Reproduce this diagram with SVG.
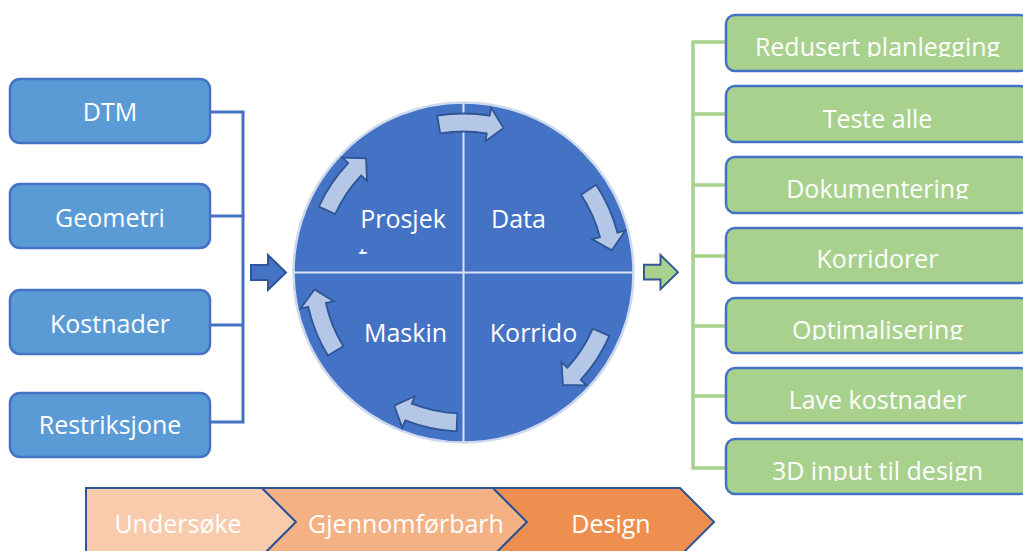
<svg xmlns="http://www.w3.org/2000/svg" xmlns:xlink="http://www.w3.org/1999/xlink" width="1023" height="551" viewBox="0 0 1023 551">
  <style>
    .txt { font-family: "Open Sans", "Liberation Sans", sans-serif; font-size: 25px; fill: #FFFFFF; text-anchor: middle; }
    .inbox { fill: #5B9BD5; stroke: #4472C4; stroke-width: 2.5; }
    .outbox { fill: #A9D18E; stroke: #4472C4; stroke-width: 2.5; }
    .bracket-in { fill: none; stroke: #4472C4; stroke-width: 3; }
    .bracket-out { fill: none; stroke: #A9D18E; stroke-width: 3.5; }
    .cycle { fill: #B4C7E7; stroke: #2F5597; stroke-width: 1.8; stroke-linejoin: miter; }
    .divider { stroke: #DAE3F3; stroke-width: 2; }
    .chev { stroke: #2F5597; stroke-width: 2; }
  </style>
  <defs>
    <!-- clockwise arc arrow drawn around the circle centre, centred on angle 0 -->
    <path id="arcArrow" class="cycle" d="M155.23,-34.42 A159,159 0 0 1 157.98,18.00 L165.93,18.89 L146.45,32.47 L132.15,15.06 L140.09,15.96 A141,141 0 0 0 137.66,-30.52 Z"/>
    <!-- block arrow pointing right -->
    <path id="blockArrow" d="M0,10 H17 V0 L35,17.5 L17,35 V25 H0 Z" stroke="#2F5597" stroke-width="2"/>
    <clipPath id="outClip"><rect x="-5" y="-5" width="320" height="47"/></clipPath>
    <clipPath id="tClip"><rect x="340" y="240" width="60" height="14"/></clipPath>
  </defs>

  <!-- connectors -->
  <g id="connectors">
    <path class="bracket-in" d="M210,112 H243 M210,216 H243 M210,325 H243 M210,422 H243 M243,110.5 V423.5"/>
    <path class="bracket-out" d="M726,42 H693 M726,114 H693 M726,185 H693 M726,256 H693 M726,326 H693 M726,396 H693 M726,468 H693 M693,40.5 V469.5"/>
    <use xlink:href="#blockArrow" transform="translate(251,255)" fill="#4472C4"/>
    <use xlink:href="#blockArrow" transform="translate(644,255) scale(0.97,0.98)" fill="#A9D18E"/>
  </g>

  <!-- inputs -->
  <g id="in-dtm">
    <rect class="inbox" x="10" y="79" width="200" height="64" rx="10"/>
    <text class="txt" x="110" y="121">DTM</text>
  </g>
  <g id="in-geometri">
    <rect class="inbox" x="10" y="184" width="200" height="64" rx="10"/>
    <text class="txt" x="110" y="227">Geometri</text>
  </g>
  <g id="in-kostnader">
    <rect class="inbox" x="10" y="290" width="200" height="64" rx="10"/>
    <text class="txt" x="110" y="333">Kostnader</text>
  </g>
  <g id="in-restriksjoner">
    <rect class="inbox" x="10" y="393" width="200" height="64" rx="10"/>
    <text class="txt" x="110" y="434">Restriksjone</text>
  </g>

  <!-- process cycle -->
  <g id="cycle">
    <circle cx="463.5" cy="272.5" r="170" fill="#4472C4" stroke="#CFD9EE" stroke-width="2.5"/>
    <line class="divider" x1="294" y1="272.5" x2="633" y2="272.5"/>
    <line class="divider" x1="463.5" y1="103" x2="463.5" y2="442"/>
    <use xlink:href="#arcArrow" transform="translate(463.5,272.5) rotate(-87)"/>
    <use xlink:href="#arcArrow" transform="translate(463.5,272.5) rotate(-21)"/>
    <use xlink:href="#arcArrow" transform="translate(463.5,272.5) rotate(36)"/>
    <use xlink:href="#arcArrow" transform="translate(463.5,272.5) rotate(105)"/>
    <use xlink:href="#arcArrow" transform="translate(463.5,272.5) rotate(161)"/>
    <use xlink:href="#arcArrow" transform="translate(463.5,272.5) rotate(217)"/>
  </g>
  <g id="q-prosjekt">
    <text class="txt" x="403" y="228">Prosjek</text>
    <text class="txt" x="363" y="266" clip-path="url(#tClip)">t</text>
  </g>
  <g id="q-data">
    <text class="txt" x="518.5" y="228">Data</text>
  </g>
  <g id="q-maskin">
    <text class="txt" x="405.5" y="342">Maskin</text>
  </g>
  <g id="q-korridor">
    <text class="txt" x="533.5" y="342">Korrido</text>
  </g>

  <!-- outcomes -->
  <g id="out-1" transform="translate(726,15)">
    <rect class="outbox" x="0" y="0" width="303" height="56" rx="9"/>
    <text class="txt" x="151.5" y="41" clip-path="url(#outClip)">Redusert planlegging</text>
  </g>
  <g id="out-2" transform="translate(726,86)">
    <rect class="outbox" x="0" y="0" width="303" height="56" rx="9"/>
    <text class="txt" x="151.5" y="42" clip-path="url(#outClip)">Teste alle</text>
  </g>
  <g id="out-3" transform="translate(726,157)">
    <rect class="outbox" x="0" y="0" width="303" height="56" rx="9"/>
    <text class="txt" x="151.5" y="41" clip-path="url(#outClip)">Dokumentering</text>
  </g>
  <g id="out-4" transform="translate(726,228)">
    <rect class="outbox" x="0" y="0" width="303" height="55" rx="9"/>
    <text class="txt" x="151.5" y="40" clip-path="url(#outClip)">Korridorer</text>
  </g>
  <g id="out-5" transform="translate(726,298)">
    <rect class="outbox" x="0" y="0" width="303" height="55" rx="9"/>
    <text class="txt" x="151.5" y="41" clip-path="url(#outClip)">Optimalisering</text>
  </g>
  <g id="out-6" transform="translate(726,368)">
    <rect class="outbox" x="0" y="0" width="303" height="55" rx="9"/>
    <text class="txt" x="151.5" y="41" clip-path="url(#outClip)">Lave kostnader</text>
  </g>
  <g id="out-7" transform="translate(726,439)">
    <rect class="outbox" x="0" y="0" width="303" height="55" rx="9"/>
    <text class="txt" x="151.5" y="41" clip-path="url(#outClip)">3D input til design</text>
  </g>

  <!-- phases -->
  <g id="phase-undersoke">
    <path class="chev" fill="#F8CBAD" d="M86,488 H262 L296,522 L262,556 H86 Z"/>
    <text class="txt" x="178" y="533">Undersøke</text>
  </g>
  <g id="phase-gjennomforbarhet">
    <path class="chev" fill="#F4B183" d="M262,488 H493 L527,522 L493,556 H262 L296,522 Z"/>
    <text class="txt" x="406" y="533">Gjennomførbarh</text>
  </g>
  <g id="phase-design">
    <path class="chev" fill="#EE8F4F" d="M493,488 H680 L714,522 L680,556 H493 L527,522 Z"/>
    <text class="txt" x="611" y="533">Design</text>
  </g>
</svg>
